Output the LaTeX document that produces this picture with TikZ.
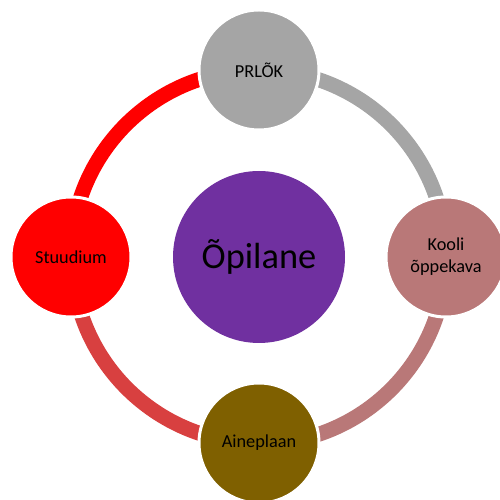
\documentclass[tikz,border=0pt]{standalone}
\usepackage{fontspec}
\setmainfont{Carlito}
\usepackage{tikz}
\usetikzlibrary{backgrounds}
\definecolor{lilla}{RGB}{112,48,160}
\definecolor{hall}{RGB}{165,165,165}
\definecolor{roosa}{RGB}{185,120,120}
\definecolor{pruun}{RGB}{127,96,0}
\definecolor{punane}{RGB}{255,0,0}
\definecolor{punaneHele}{RGB}{216,64,64}

\begin{document}
\begin{tikzpicture}[
  ring/.style={circle, minimum size=2.4cm, inner sep=0pt, draw=white,
               line width=0.06cm, align=center,
               font=\fontsize{10.4}{12.5}\selectfont},
  kaar/.style={line width=0.3cm}]

  \useasboundingbox (-5.18,-4.86) rectangle (4.82,5.14);

  \node[circle, minimum size=3.44cm, inner sep=0pt, fill=lilla,
        font=\fontsize{20.7}{24}\selectfont] (OP) at (0,0) {Õpilane};

  \node[ring,fill=hall]   (PR) at (0,3.74)  {PRLÕK};
  \node[ring,fill=roosa]  (KO) at (3.74,0)  {Kooli\\õppekava};
  \node[ring,fill=pruun]  (AP) at (0,-3.72) {Aineplaan};
  \node[ring,fill=punane] (ST) at (-3.76,0) {Stuudium};

  \begin{scope}[on background layer]
    \draw[kaar,hall]       (PR.center) arc[start angle=90,  end angle=0,   radius=3.74cm];
    \draw[kaar,roosa]      (KO.center) arc[start angle=0,   end angle=-90, radius=3.74cm];
    \draw[kaar,punaneHele] (AP.center) arc[start angle=270, end angle=180, radius=3.74cm];
    \draw[kaar,punane]     (ST.center) arc[start angle=180, end angle=90,  radius=3.74cm];
  \end{scope}
\end{tikzpicture}
\end{document}
